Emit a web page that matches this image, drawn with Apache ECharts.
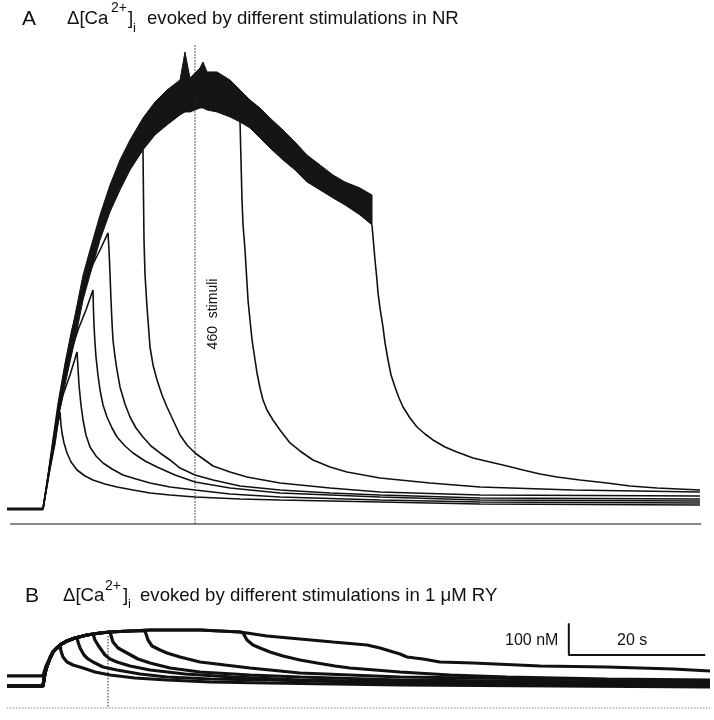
<!DOCTYPE html>
<html><head><meta charset="utf-8">
<script src="https://cdn.jsdelivr.net/npm/echarts@6/dist/echarts.min.js"></script>
<style>html,body{margin:0;padding:0;background:#fff}#c{width:714px;height:720px}</style>
</head><body><div id="c"></div>
<script>
// Units: time in s from stimulus onset, Δ[Ca2+]i in nM (scale bar: 20 s, 100 nM)
const PRE_T = -5.28;

// ---------- Panel A (normal Ringer) ----------
// noisy envelope of the long trains (upper / lower edge of the noise band)
const bandTime  = [0,1.03,1.76,2.49,3.23,3.96,4.99,5.87,6.89,8.36,9.82,11.29,12.76,14.66,16.42,18.18,20.09,20.82,21.55,23.02,23.46,24.05,25.51,27.42,28.89,30.35,31.82,33.28,35.19,36.95,38.71,40.62,42.52,44.28,46.48,48.24];
const bandUpper = [0,148.3,242.9,359.6,454.3,533.1,643.5,738.2,817,927.5,1022,1101,1164,1233.5,1283.9,1321.8,1353.3,1441.7,1359.6,1391.2,1410.1,1378.6,1378.6,1353.3,1321.8,1290.2,1265,1233.5,1195.6,1157.7,1116.7,1085.2,1053.6,1031.6,1012.6,990.5];
const bandLower = [0,123,201.9,312.3,391.2,463.7,564.7,659.3,738.2,848.6,937,1006.3,1069.4,1132.5,1179.8,1211.4,1242.9,1252.4,1252.4,1265,1265,1258.7,1252.4,1236.6,1220.8,1201.9,1170.3,1138.8,1101,1069.4,1031.6,1006.3,981.1,959,927.5,895.9];

const preA = [[PRE_T,0],[0,0]];
const traceA1 = [[PRE_T,0],[0,0],[0.73,91.5],[1.47,186],[2.05,255.5],[2.49,306],[2.64,265],[2.79,239.7],[3.08,208.2],[3.52,176.7],[4.11,148.3],[4.99,123],[6.16,104.1],[7.33,91.5],[9.09,78.9],[10.85,69.4],[13.2,59.9],[15.69,50.5],[18.62,44.2],[22.29,37.9],[28.89,31.5],[34.75,28.4],[49.41,22.1],[64.08,15.8],[96.33,12.6]];
const traceA2 = [[PRE_T,0],[0,0],[0.73,97.8],[1.47,201.9],[2.2,296.5],[2.93,359.6],[3.96,422.7],[4.99,495.3],[5.13,444.8],[5.28,391.2],[5.57,328.1],[5.87,280.8],[6.3,233.4],[6.89,195.6],[7.77,167.2],[8.8,145.1],[10.12,126.2],[11.73,107.3],[13.64,94.6],[15.69,82],[18.62,69.4],[22.29,59.9],[27.42,47.3],[34.75,37.9],[49.41,28.4],[64.08,22.1],[96.33,18.9]];
const traceA3 = [[PRE_T,0],[0,0],[0.73,100.9],[1.47,208.2],[2.2,312.3],[2.93,391.2],[3.96,485.8],[5.13,564.7],[6.3,627.8],[7.33,690.9],[7.4,627.8],[7.48,580.4],[7.62,523.7],[7.77,479.5],[8.06,422.7],[8.36,375.4],[8.8,328.1],[9.38,290.2],[10.12,255.5],[10.85,227.1],[12.02,198.7],[13.2,176.7],[14.96,151.4],[16.72,132.5],[19.35,107.3],[22.29,85.2],[27.42,66.2],[34.75,50.5],[49.41,37.9],[64.08,28.4],[96.33,25.2]];
const traceA4 = [[PRE_T,0],[0,0],[0.73,104.1],[1.47,217.7],[2.2,328.1],[3.23,454.3],[4.25,564.7],[5.43,659.3],[6.89,754],[8.36,817],[9.53,870.7],[9.68,817],[9.82,744.5],[9.97,659.3],[10.12,586.8],[10.26,533.1],[10.56,479.5],[10.85,438.5],[11.29,384.9],[12.02,331.2],[12.76,290.2],[13.64,255.5],[14.66,227.1],[15.84,198.7],[17.16,176.7],[18.62,154.6],[20.09,129.3],[22.29,107.3],[24.93,91.5],[28.89,72.6],[34.75,59.9],[42.08,50.5],[49.41,44.2],[64.08,34.7],[96.33,31.5]];
const traceA5 = [[14.66,1132.5],[14.74,974.8],[14.81,848.6],[14.96,738.2],[15.25,637.2],[15.69,511],[16.13,454.3],[16.72,406.9],[17.45,359.6],[18.18,321.8],[19.06,280.8],[20.09,233.4],[21.11,201.9],[22.29,176.7],[24.93,135.6],[27.42,116.7],[29.91,100.9],[34.75,82],[42.08,66.2],[49.41,53.6],[64.08,44.2],[96.33,41]];
const traceA6 = [[28.89,1220.8],[29.03,1101],[29.18,974.8],[29.33,895.9],[29.62,817],[30.06,659.3],[30.35,596.2],[30.65,533.1],[31.09,470],[31.38,429],[31.82,381.7],[32.26,343.9],[32.84,312.3],[33.72,280.8],[34.75,249.2],[36.22,208.2],[37.68,183],[39.59,154.6],[42.08,132.5],[44.57,116.7],[49.41,97.8],[56.74,82],[64.08,69.4],[77.71,59.9],[96.33,53.6]];
const traceA7 = [[48.24,895.9],[48.39,858],[48.68,785.5],[48.97,722.4],[49.12,681.4],[49.41,634.1],[49.85,574.1],[50.15,523.7],[50.59,470],[51.03,422.7],[51.61,384.9],[52.2,350.2],[52.79,321.8],[53.81,287.1],[54.84,258.7],[56.01,236.6],[57.18,217.7],[58.94,195.6],[60.7,179.8],[63.05,160.9],[65.54,148.3],[68.04,135.6],[70.38,123],[72.87,110.4],[75.37,100.9],[78.74,91.5],[82.7,82],[86.07,72.6],[90.03,66.2],[96.33,59.9]];
const baselineA = [[-4.8,-47],[96.5,-47]];
const marker460 = [[22.29,1463],[22.29,-47]];

// ---------- Panel B (1 µM ryanodine) ----------
const envB = [[0,0],[0.29,41],[0.59,63.1],[1.03,88.3],[1.47,107.3],[2.05,119.9],[2.49,129.3],[3.52,142],[4.69,151.4],[6.45,160.9],[8.36,167.2],[9.82,170.3],[12.76,173.5],[15.69,176.7],[23.02,176.7],[28.89,170.3]];
const decayB1 = [[2.64,110.4],[2.93,91.5],[3.52,75.7],[4.4,66.2],[5.87,56.8],[7.62,44.2],[9.82,34.7],[13.49,25.2],[18.18,18.9],[24.49,12.6],[32.84,9.5],[52.35,3.2],[97.8,-3.2]];
const decayB2 = [[4.99,151.4],[5.13,138.8],[5.43,119.9],[6.01,97.8],[6.6,85.2],[7.33,75.7],[8.8,59.9],[10.85,50.5],[14.22,37.9],[18.18,28.4],[24.49,22.1],[32.84,18.9],[52.35,9.5],[97.8,3.2]];
const decayB3 = [[7.33,164],[7.62,145.1],[8.06,129.3],[8.36,119.9],[9.09,97.8],[9.82,85.2],[10.85,75.7],[12.76,63.1],[15.69,50.5],[20.82,37.9],[27.86,28.4],[37.68,18.9],[52.35,12.6],[97.8,6.3]];
const decayB4 = [[10.26,138.8],[11,119.9],[12.32,104.1],[13.93,85.2],[15.69,72.6],[18.62,56.8],[23.02,44.2],[30.35,34.7],[37.68,28.4],[52.35,18.9],[97.8,9.5]];
const decayB5 = [[14.96,173.5],[15.4,145.1],[15.98,126.2],[17.16,113.6],[18.18,104.1],[20.09,91.5],[23.02,75.7],[26.69,66.2],[30.35,56.8],[37.68,41],[45.01,34.7],[52.35,28.4],[74.34,22.1],[97.8,15.8]];
const decayB6 = [[29.33,167.2],[29.91,145.1],[30.79,129.3],[31.82,119.9],[33.28,107.3],[35.19,94.6],[37.68,82],[40.18,72.6],[42.82,63.1],[45.01,56.8],[52.35,44.2],[59.68,34.7],[68.04,28.4],[82.7,22.1],[97.8,18.9]];
const dropB = [2.49,4.69,6.45,9.82,12.76,28.89];
const startB7 = [[PRE_T,32],[0,32],[0.44,63]];
const tailB7 = [[32.84,157.7],[37.68,148.3],[42.52,138.8],[47.51,129.3],[49.41,119.9],[50.88,110.4],[52.35,100.9],[53.37,91.5],[54.55,88.3],[55.72,85.2],[58.21,75.7],[63.05,72.6],[72.87,63.1],[82.7,59.9],[92.38,53.6],[97.8,47.3]];
const markerB = [[9.53,158],[9.53,-69.4]];
const baselineB = [[PRE_T,-69.4],[97.8,-69.4]];
const scaleBar = [[77.1,198],[77.1,98],[97.1,98]];

const decaysB = [decayB1,decayB2,decayB3,decayB4,decayB5,decayB6];
const tracesB = decaysB.map((d,i)=>[[PRE_T,0]].concat(envB.filter(p=>p[0]<=dropB[i]), d));
const traceB7 = startB7.concat(envB.filter(p=>p[0]>0.6), tailB7);

const INK = '#111';
function line(data, xi, w, extra){
  return Object.assign({type:'line', xAxisIndex:xi, yAxisIndex:xi, data:data, symbol:'none', silent:true,
    lineStyle:{color:INK, width:w}, animation:false}, extra||{});
}
const series = [];
series.push({type:'custom', xAxisIndex:0, yAxisIndex:0, data:[[0,0]], silent:true, animation:false,
  renderItem:function(params, api){
    const pts=[];
    for(let i=0;i<bandTime.length;i++) pts.push(api.coord([bandTime[i], bandUpper[i]]));
    for(let i=bandTime.length-1;i>=0;i--) pts.push(api.coord([bandTime[i], bandLower[i]]));
    return {type:'polygon', shape:{points:pts}, style:{fill:'#151515', stroke:'#151515', lineWidth:1}};
  }});
[traceA1,traceA2,traceA3,traceA4,traceA5,traceA6,traceA7].forEach(d=>series.push(line(d,0,1.6)));
series.push(line(preA,0,3));
series.push(line(baselineA,0,2,{lineStyle:{color:'#8a8a8a',width:2}}));
series.push(line(marker460,0,1,{lineStyle:{color:'#222',width:1,type:[1.5,1.5]}}));
tracesB.forEach(d=>series.push(line(d,1,3.2)));
series.push(line(traceB7,1,3.2));
series.push(line(markerB,1,1,{lineStyle:{color:'#222',width:1,type:[1.5,1.5]}}));
series.push(line(baselineB,1,1,{lineStyle:{color:'#777',width:1,type:[1.5,1.5]}}));
series.push(line(scaleBar,1,2));

const F = '"Liberation Sans", Arial, Helvetica, sans-serif';
function txt(x,y,s,size,extra){
  return Object.assign({type:'text', x:x, y:y, silent:true,
    style:{text:s, fill:'#111', font: size+'px '+F, textAlign:'left', textVerticalAlign:'middle'}}, extra||{});
}
const graphics = [
  txt(22,19,'A',21),
  txt(67,19,'Δ[Ca',18.6), txt(111,8,'2+',14), txt(128,19,']',18.6), txt(133,28,'i',13),
  txt(147,19,'evoked by different stimulations in NR',18.6),
  txt(25,596,'B',21),
  txt(63,596,'Δ[Ca',18.6), txt(105,586,'2+',14), txt(123,596,']',18.6), txt(128,604,'i',13),
  txt(140,596,'evoked by different stimulations in 1 μM RY',18.6),
  txt(505,641,'100 nM',16), txt(617,641,'20 s',16)
];
graphics.push({type:'text', x:213, y:314, rotation:Math.PI/2, silent:true,
  style:{text:'460  stimuli', fill:'#111', font:'14px '+F, textAlign:'center', textVerticalAlign:'middle'}});

const chart = echarts.init(document.getElementById('c'), null, {renderer:'canvas'});
chart.setOption({
  animation:false,
  backgroundColor:'#fff',
  grid:[{left:6.854, width:703.15, top:39.8, height:484.1},
        {left:6.854, width:703.15, top:619.43, height:88.76}],
  xAxis:[{type:'value', gridIndex:0, min:-5.3, max:97.8, show:false},
         {type:'value', gridIndex:1, min:-5.3, max:97.8, show:false}],
  yAxis:[{type:'value', gridIndex:0, min:-47, max:1480, show:false},
         {type:'value', gridIndex:1, min:-70, max:210, show:false}],
  series:series,
  graphic:graphics
});
</script></body></html>
